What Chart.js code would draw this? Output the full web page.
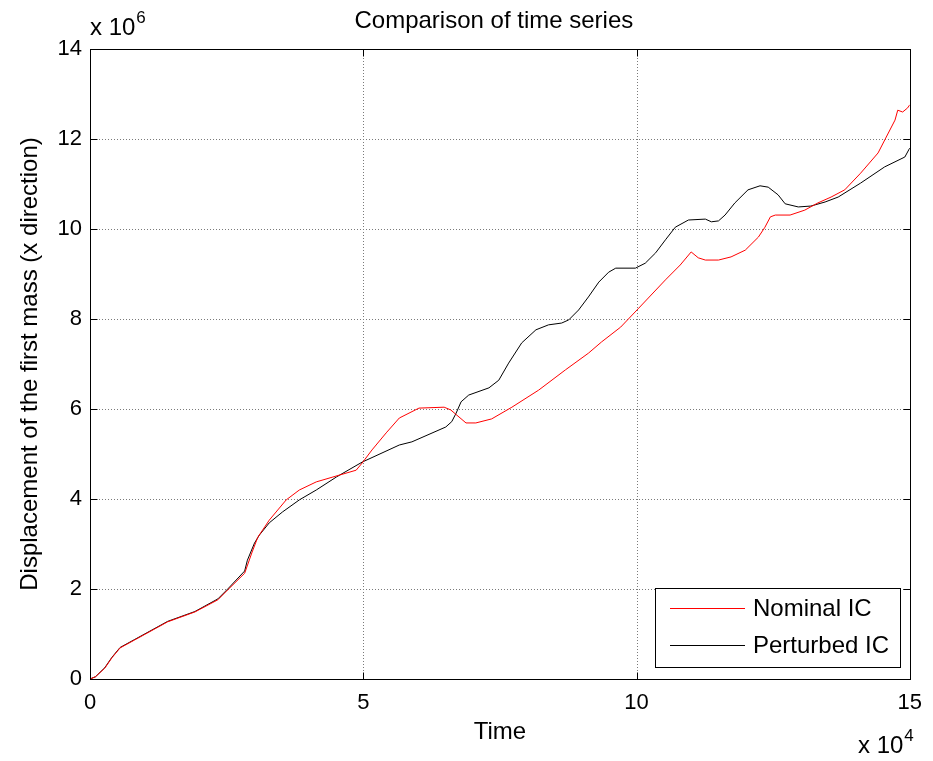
<!DOCTYPE html>
<html>
<head>
<meta charset="utf-8">
<script src="https://cdn.jsdelivr.net/npm/chart.js@4"></script>
<style>
  html, body { margin: 0; padding: 0; background: #fff; }
</style>
</head>
<body>
<canvas id="chart" width="933" height="761"></canvas>
<script>
// time in units of 1e4, displacement in units of 1e6
const nominalTime = [0, 0.1, 0.27, 0.4, 0.55, 0.82, 1.42, 1.92, 2.34, 2.52, 2.83, 2.96, 3.07, 3.28, 3.59, 3.83,
  4.14, 4.56, 4.87, 4.98, 5.16, 5.42, 5.66, 6.02, 6.48, 6.6, 6.88, 7.06, 7.35, 7.72, 8.21, 8.7, 9.12, 9.36,
  9.71, 10.04, 10.53, 10.8, 11.0, 11.13, 11.26, 11.5, 11.73, 11.99, 12.23, 12.35, 12.45, 12.54, 12.81,
  13.08, 13.32, 13.56, 13.81, 14.1, 14.42, 14.56, 14.73, 14.78, 14.87, 14.96, 15.0];
const nominalDisp = [0, 0.05, 0.24, 0.47, 0.69, 0.87, 1.27, 1.49, 1.76, 1.98, 2.35, 2.8, 3.15, 3.53, 3.98, 4.2,
  4.38, 4.53, 4.64, 4.8, 5.09, 5.47, 5.8, 6.02, 6.04, 5.98, 5.69, 5.69, 5.78, 6.04, 6.42, 6.87, 7.24, 7.49,
  7.82, 8.24, 8.87, 9.2, 9.49, 9.36, 9.31, 9.31, 9.38, 9.53, 9.82, 10.04, 10.27, 10.31, 10.31,
  10.42, 10.58, 10.71, 10.87, 11.24, 11.69, 12.02, 12.42, 12.64, 12.6, 12.69, 12.76];

const perturbedTime = [0, 0.1, 0.27, 0.4, 0.55, 0.82, 1.42, 1.92, 2.34, 2.52, 2.83, 2.88, 3.01, 3.1, 3.28, 3.52,
  3.83, 4.14, 4.51, 4.98, 5.66, 5.89, 6.51, 6.62, 6.7, 6.79, 6.93, 7.3, 7.48, 7.66, 7.9, 8.16, 8.39, 8.63,
  8.76, 8.94, 9.12, 9.31, 9.49, 9.62, 9.98, 10.16, 10.35, 10.53, 10.71, 10.95, 11.26, 11.37, 11.5, 11.62,
  11.8, 12.04, 12.26, 12.41, 12.59, 12.72, 12.96, 13.19, 13.45, 13.69, 14.1, 14.54, 14.91, 15.0];
const perturbedDisp = [0, 0.05, 0.25, 0.48, 0.7, 0.88, 1.28, 1.5, 1.78, 2.0, 2.4, 2.64, 3.02, 3.2, 3.47, 3.71,
  3.98, 4.2, 4.49, 4.82, 5.2, 5.27, 5.6, 5.72, 5.91, 6.16, 6.31, 6.47, 6.64, 7.02, 7.47, 7.76, 7.87, 7.91,
  7.98, 8.2, 8.49, 8.82, 9.04, 9.13, 9.13, 9.24, 9.47, 9.76, 10.04, 10.2, 10.22, 10.16, 10.18, 10.31,
  10.58, 10.87, 10.96, 10.93, 10.76, 10.56, 10.49, 10.51, 10.6, 10.71, 11.02, 11.38, 11.6, 11.8];

const xTicks = [0, 5, 10, 15];
const yTicks = [0, 2, 4, 6, 8, 10, 12, 14];

const seriesLabels = ['Nominal IC', 'Perturbed IC'];
const seriesColors = ['#ff0000', '#000000'];
const chartTitle = 'Comparison of time series';

const FONT = '"Liberation Sans", Arial, Helvetica, sans-serif';

const toPoints = (ts, ys) => ts.map((t, i) => ({ x: t, y: ys[i] }));

// MATLAB-like box, dotted grid, inward ticks, title, legend and exponent labels
const matlabAxes = {
  id: 'matlabAxes',
  beforeDatasetsDraw(chart) {
    const { ctx, chartArea: a, scales: { x, y } } = chart;
    ctx.save();
    ctx.strokeStyle = '#7a7a7a';
    ctx.lineWidth = 1;
    ctx.setLineDash([1, 2]);
    xTicks.slice(1, -1).forEach(v => {
      const px = Math.round(x.getPixelForValue(v)) + 0.5;
      ctx.beginPath(); ctx.moveTo(px, a.top); ctx.lineTo(px, a.bottom); ctx.stroke();
    });
    yTicks.slice(1, -1).forEach(v => {
      const py = Math.round(y.getPixelForValue(v)) + 0.5;
      ctx.beginPath(); ctx.moveTo(a.left, py); ctx.lineTo(a.right, py); ctx.stroke();
    });
    ctx.restore();
  },
  afterDatasetsDraw(chart) {
    const { ctx, chartArea: a, scales: { x, y } } = chart;
    const L = Math.round(a.left) + 0.5, R = Math.round(a.right) + 0.5;
    const T = Math.round(a.top) + 0.5, B = Math.round(a.bottom) + 0.5;
    const tick = 7;
    ctx.save();
    ctx.strokeStyle = '#000';
    ctx.lineWidth = 1;
    ctx.strokeRect(L, T, R - L, B - T);
    ctx.beginPath();
    xTicks.forEach(v => {
      const px = Math.round(x.getPixelForValue(v)) + 0.5;
      ctx.moveTo(px, B); ctx.lineTo(px, B - tick);
      ctx.moveTo(px, T); ctx.lineTo(px, T + tick);
    });
    yTicks.forEach(v => {
      const py = Math.round(y.getPixelForValue(v)) + 0.5;
      ctx.moveTo(L, py); ctx.lineTo(L + tick, py);
      ctx.moveTo(R, py); ctx.lineTo(R - tick, py);
    });
    ctx.stroke();

    // title, centred over the plot area
    ctx.fillStyle = '#000';
    ctx.font = '24px ' + FONT;
    ctx.textAlign = 'center';
    ctx.textBaseline = 'middle';
    ctx.fillText(chartTitle, (a.left + a.right) / 2 - 6, 21);

    // legend
    const lx = 655.5, ly = 588.5, lw = 245, lh = 79;
    ctx.fillStyle = '#fff';
    ctx.fillRect(lx, ly, lw, lh);
    ctx.strokeRect(lx, ly, lw, lh);
    ctx.textAlign = 'left';
    const rowsY = [608.5, 645.5];
    chart.data.datasets.forEach((ds, i) => {
      ctx.strokeStyle = ds.borderColor;
      ctx.beginPath(); ctx.moveTo(670, rowsY[i]); ctx.lineTo(745, rowsY[i]); ctx.stroke();
      ctx.fillStyle = '#000';
      ctx.fillText(ds.label, 753, rowsY[i] + 1);
    });

    // exponent labels
    ctx.fillStyle = '#000';
    ctx.textBaseline = 'alphabetic';
    ctx.font = '24px ' + FONT;
    ctx.fillText('x 10', 90, 35);
    let w = ctx.measureText('x 10').width;
    ctx.font = '17px ' + FONT;
    ctx.fillText('6', 90 + w + 1, 23);
    ctx.font = '24px ' + FONT;
    ctx.fillText('x 10', 858, 753);
    w = ctx.measureText('x 10').width;
    ctx.font = '17px ' + FONT;
    ctx.fillText('4', 858 + w + 1, 741);
    ctx.restore();
  }
};

new Chart(document.getElementById('chart'), {
  type: 'line',
  data: {
    datasets: [
      {
        label: seriesLabels[0],
        data: toPoints(nominalTime, nominalDisp),
        borderColor: seriesColors[0],
        borderWidth: 1,
        pointRadius: 0,
        tension: 0
      },
      {
        label: seriesLabels[1],
        data: toPoints(perturbedTime, perturbedDisp),
        borderColor: seriesColors[1],
        borderWidth: 1,
        pointRadius: 0,
        tension: 0
      }
    ]
  },
  options: {
    responsive: false,
    animation: false,
    layout: { padding: { left: 0, top: 49, right: 21, bottom: 0 } },
    plugins: {
      legend: { display: false },
      tooltip: { enabled: false },
      title: { display: false }
    },
    scales: {
      x: {
        type: 'linear',
        min: 0,
        max: 15,
        afterBuildTicks: s => { s.ticks = xTicks.map(v => ({ value: v })); },
        afterFit: s => { s.height = 82; },
        grid: { display: false, drawTicks: false },
        border: { display: false },
        ticks: { color: '#000', padding: 11, maxRotation: 0, font: { family: FONT, size: 22 } },
        title: {
          display: true,
          text: 'Time',
          color: '#000',
          font: { family: FONT, size: 24 },
          padding: { top: 0, bottom: 14 }
        }
      },
      y: {
        type: 'linear',
        min: 0,
        max: 14,
        afterBuildTicks: s => { s.ticks = yTicks.map(v => ({ value: v })); },
        afterFit: s => { s.width = 90; },
        grid: { display: false, drawTicks: false },
        border: { display: false },
        ticks: { color: '#000', padding: 8, font: { family: FONT, size: 22 } },
        title: {
          display: true,
          text: 'Displacement of the first mass (x direction)',
          color: '#000',
          font: { family: FONT, size: 24 },
          padding: { top: 16, bottom: 0 }
        }
      }
    }
  },
  plugins: [matlabAxes]
});
</script>
</body>
</html>
